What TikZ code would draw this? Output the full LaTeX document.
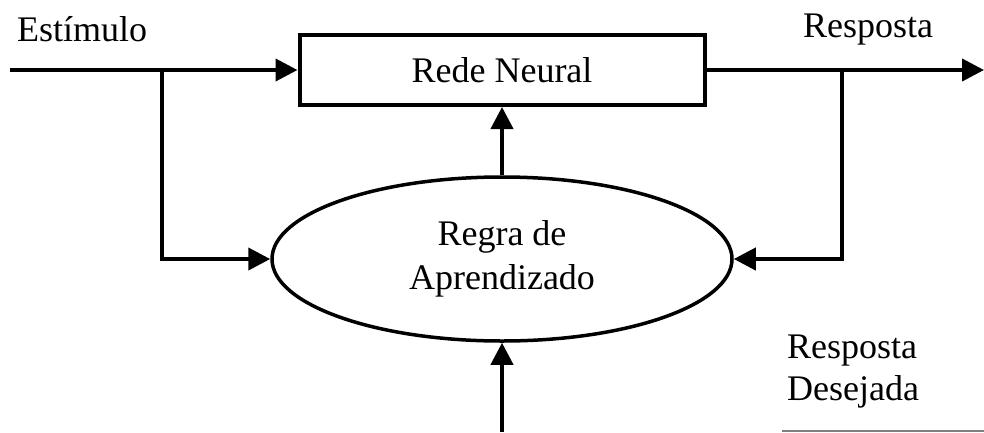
\documentclass[tikz,border=0pt]{standalone}
\usepackage{fontspec}
\setmainfont{Liberation Serif}
\usepackage{tikz}
\usetikzlibrary{arrows.meta, shapes.geometric, positioning}

\begin{document}
\begin{tikzpicture}[
        x=1pt, y=-1pt,
        every node/.style={font=\fontsize{36}{44}\selectfont, inner sep=0pt},
        caixa/.style={draw, line width=4pt, minimum width=405pt, minimum height=70pt},
        elipse/.style={ellipse, draw, line width=3.5pt, minimum width=460pt, minimum height=164pt, align=center},
        seta/.style={line width=4pt, -{Triangle[length=22pt, width=22pt]}},
        rotulo/.style={anchor=base west}
    ]
    \useasboundingbox (0,0) rectangle (984,432);

    % Blocks
    \node[caixa] (rede) at (502,70) {Rede Neural};
    \node[elipse] (regra) at (502,259) {Regra de\\Aprendizado};

    % Free ends and junctions
    \coordinate (entrada) at (10,70);
    \coordinate (saida) at (984,70);
    \coordinate (jesq) at (162,70);
    \coordinate (jdir) at (842,70);
    \coordinate (desejada) at (502,432);

    % Labels
    \node[rotulo] (estimulo) at (17,41) {Estímulo};
    \node[rotulo] (resposta) at (803,37) {Resposta};
    \node[rotulo] (resp1) at (787,358) {Resposta};
    \node[rotulo] (resp2) at (787,400) {Desejada};

    % Connections
    \draw[seta] (entrada) -- (rede.west);
    \draw[seta] (rede.east) -- (saida);
    \draw[seta] (jesq) |- (regra.west);
    \draw[seta] (jdir) |- (regra.east);
    \draw[seta] (regra.north) -- (rede.south);
    \draw[seta] (desejada) -- (regra.south);

    % Rule at the bottom
    \draw[gray, line width=1.2pt] (782,431) -- (984,431);

\end{tikzpicture}
\end{document}
